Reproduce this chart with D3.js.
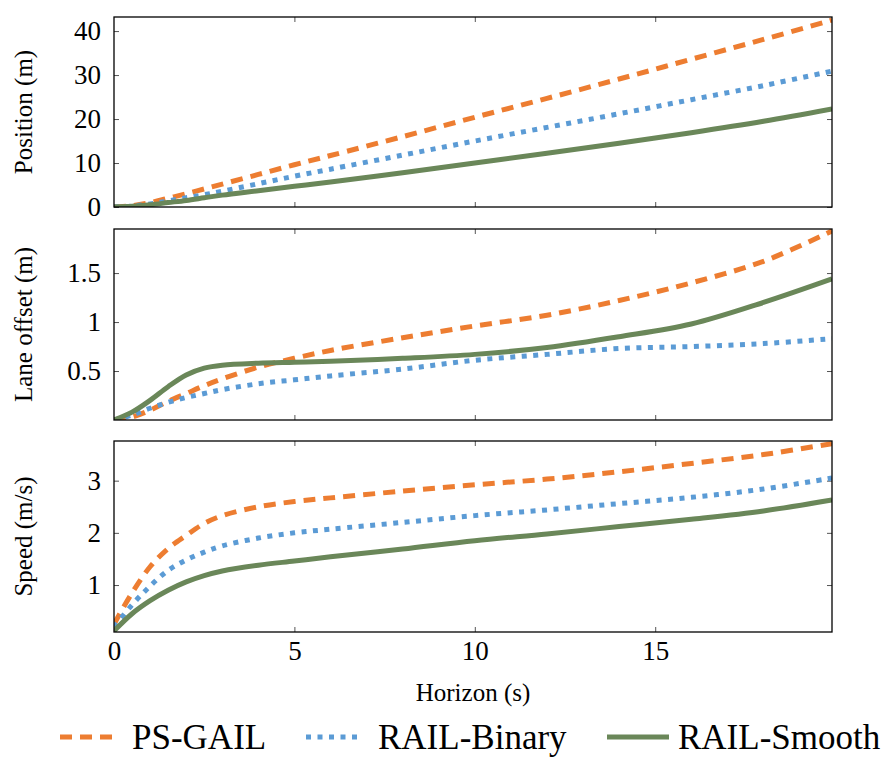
<!DOCTYPE html>
<html><head><meta charset="utf-8">
<script src="https://cdn.jsdelivr.net/npm/d3@7"></script>
</head><body style="margin:0"><svg id="c" width="891" height="761"></svg>
<script>
const times = [0,0.5,1,1.5,2,2.5,3,4,5,6,8,10,12,14,16,18,19.9];
const seriesNames = ["PS-GAIL","RAIL-Binary","RAIL-Smooth"];
const posPS     = [0,0.3,1.0,2.0,3.0,4.1,5.2,7.4,9.6,11.7,16.0,20.4,24.7,29.1,33.6,38.1,42.5];
const posBinary = [0,0.2,0.7,1.4,2.1,2.8,3.6,5.3,7.0,8.6,11.8,15.0,18.1,21.2,24.4,27.6,30.9];
const posSmooth = [0,0.15,0.5,1.0,1.5,2.1,2.7,3.7,4.7,5.7,7.8,10.0,12.2,14.5,16.9,19.5,22.3];
const lanePS     = [0,0.03,0.1,0.19,0.27,0.35,0.42,0.54,0.63,0.71,0.84,0.96,1.07,1.22,1.40,1.62,1.93];
const laneBinary = [0,0.05,0.12,0.18,0.23,0.27,0.31,0.37,0.41,0.45,0.52,0.61,0.67,0.73,0.75,0.78,0.83];
const laneSmooth = [0,0.08,0.2,0.34,0.46,0.53,0.56,0.58,0.59,0.60,0.63,0.67,0.74,0.85,0.98,1.20,1.44];
const spdPS     = [0.25,0.85,1.35,1.7,1.95,2.18,2.33,2.5,2.6,2.67,2.8,2.92,3.03,3.17,3.33,3.5,3.71];
const spdBinary = [0.2,0.62,0.98,1.28,1.48,1.63,1.75,1.9,2.0,2.07,2.2,2.33,2.44,2.56,2.68,2.84,3.05];
const spdSmooth = [0.12,0.45,0.7,0.9,1.06,1.18,1.27,1.38,1.46,1.54,1.69,1.85,1.98,2.12,2.26,2.42,2.63];
const xTicks = [0,5,10,15];
const posTicks = [0,10,20,30,40];
const laneTicks = [0.5,1,1.5];
const spdTicks = [1,2,3];
const xLabel = "Horizon (s)";

const colors = ["#ED7D31","#5B9BD5","#6A8759"];
const dashes = ["12,8","5,6.5",null];
const FONT = "'Liberation Serif'";

const svg = d3.select("#c");
const L = 114, R = 832;
const x = d3.scaleLinear().domain([0,19.9]).range([L,R]);

const panels = [
  {label:"Position (m)", top:17, bottom:207, dom:[0,43.2], ticks:posTicks, fmt:d3.format("d"), data:[posPS,posBinary,posSmooth]},
  {label:"Lane offset (m)", top:229, bottom:420, dom:[0,1.95], ticks:laneTicks, fmt:d3.format(""), data:[lanePS,laneBinary,laneSmooth]},
  {label:"Speed (m/s)", top:441, bottom:632, dom:[0.1,3.76], ticks:spdTicks, fmt:d3.format("d"), data:[spdPS,spdBinary,spdSmooth]}
];

panels.forEach((p,i)=>{
  const y = d3.scaleLinear().domain(p.dom).range([p.bottom,p.top]);
  const g = svg.append("g");
  const cid = "clip"+i;
  svg.append("clipPath").attr("id",cid).append("rect")
    .attr("x",L).attr("y",p.top).attr("width",R-L).attr("height",p.bottom-p.top);
  const styleAxis = (sel, labels) => {
    sel.attr("font-family",null).attr("font-size",27);
    sel.select(".domain").remove();
    sel.selectAll(".tick line").attr("stroke","#555").attr("stroke-width",1);
    sel.selectAll(".tick text").attr("font-size",27).attr("fill","#000");
    if(!labels) sel.selectAll(".tick text").remove();
  };
  g.append("g").attr("transform",`translate(${L},0)`)
    .call(d3.axisLeft(y).tickValues(p.ticks).tickFormat(p.fmt).tickSize(-5).tickPadding(13))
    .call(s=>styleAxis(s,true));
  g.append("g").attr("transform",`translate(${R},0)`)
    .call(d3.axisRight(y).tickValues(p.ticks).tickSize(-5))
    .call(s=>styleAxis(s,false));
  g.append("g").attr("transform",`translate(0,${p.top})`)
    .call(d3.axisTop(x).tickValues(xTicks.slice(1)).tickSize(-5))
    .call(s=>styleAxis(s,false));
  const xb = g.append("g").attr("transform",`translate(0,${p.bottom})`)
    .call(d3.axisBottom(x).tickValues(i===2?xTicks:xTicks.slice(1)).tickSize(-5).tickPadding(9));
  styleAxis(xb, i===2);
  xb.selectAll(".tick").filter(d=>d===0).select("line").remove();
  const line = d3.line().x((d,k)=>x(times[k])).y(d=>y(d)).curve(d3.curveCatmullRom.alpha(0.5));
  p.data.forEach((arr,k)=>{
    g.append("path").attr("clip-path",`url(#${cid})`).datum(arr).attr("d",line)
      .attr("fill","none").attr("stroke",colors[k]).attr("stroke-width",5)
      .attr("stroke-dasharray",dashes[k]);
  });
  g.append("rect").attr("x",L).attr("y",p.top).attr("width",R-L).attr("height",p.bottom-p.top)
    .attr("fill","none").attr("stroke","#000").attr("stroke-width",1.3);
  g.append("text").attr("transform",`translate(32,${(p.top+p.bottom)/2}) rotate(-90)`)
    .attr("text-anchor","middle").attr("font-size",25).text(p.label);
});

svg.append("text").attr("x",473).attr("y",701).attr("text-anchor","middle")
  .attr("font-size",25).text(xLabel);

const legX = [[60,114,132],[306,363,378],[607,669,678]];
seriesNames.forEach((n,k)=>{
  svg.append("line").attr("x1",legX[k][0]).attr("x2",legX[k][1]).attr("y1",737).attr("y2",737)
    .attr("stroke",colors[k]).attr("stroke-width",5).attr("stroke-dasharray",dashes[k]);
  svg.append("text").attr("x",legX[k][2]).attr("y",749).attr("font-size",35).text(n);
});

svg.selectAll("text").each(function(){
  this.setAttribute("font-family", FONT);
  this.style.setProperty("font-family", FONT, "important");
});
</script></body></html>
